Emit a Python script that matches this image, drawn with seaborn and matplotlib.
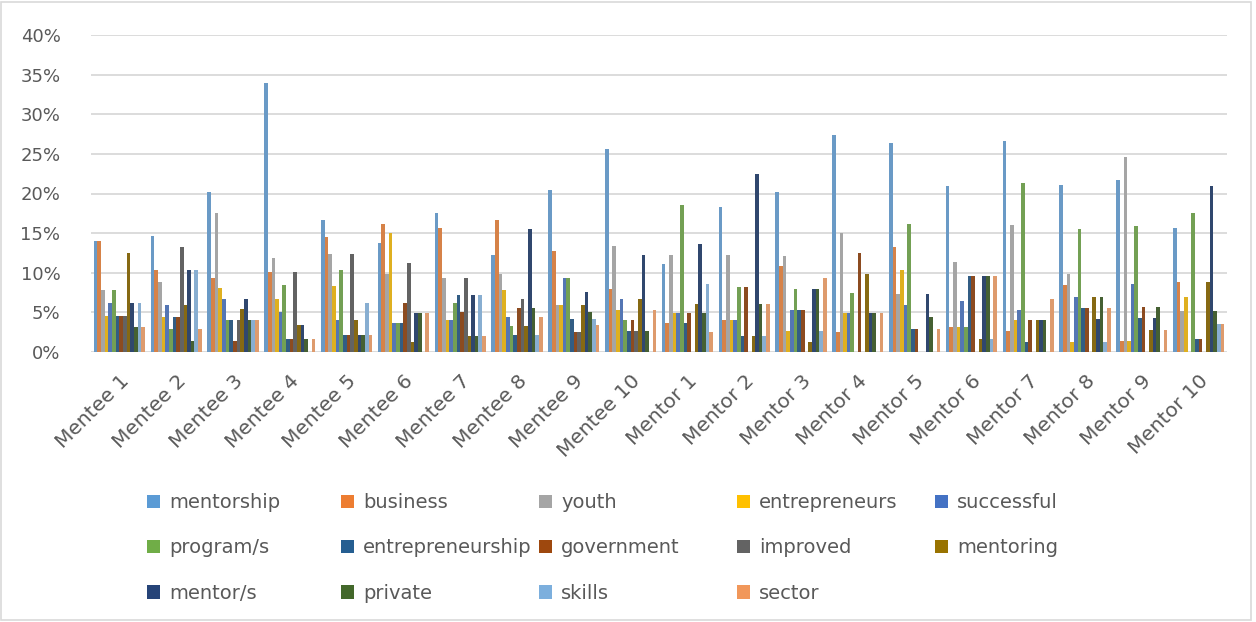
import matplotlib
matplotlib.use("Agg")
import matplotlib.pyplot as plt
import seaborn as sns
import pandas as pd
from matplotlib.ticker import PercentFormatter
from matplotlib.patches import Rectangle, Patch

categories = ["Mentee 1", "Mentee 2", "Mentee 3", "Mentee 4", "Mentee 5", "Mentee 6",
              "Mentee 7", "Mentee 8", "Mentee 9", "Mentee 10", "Mentor 1", "Mentor 2",
              "Mentor 3", "Mentor 4", "Mentor 5", "Mentor 6", "Mentor 7", "Mentor 8",
              "Mentor 9", "Mentor 10"]

terms = ["mentorship", "business", "youth", "entrepreneurs", "successful", "program/s",
         "entrepreneurship", "government", "improved", "mentoring", "mentor/s",
         "private", "skills", "sector"]

mentorship = [14.0, 14.7, 20.2, 33.9, 16.6, 13.7, 17.6, 12.2, 20.5, 25.6,
              11.1, 18.3, 20.2, 27.4, 26.4, 21.0, 26.6, 21.1, 21.7, 15.7]
business = [14.0, 10.3, 9.4, 10.1, 14.5, 16.2, 15.6, 16.6, 12.8, 8.0,
            3.7, 4.1, 10.8, 2.5, 13.2, 3.2, 2.6, 8.4, 1.4, 8.8]
youth = [7.8, 8.8, 17.6, 11.8, 12.4, 9.9, 9.3, 9.9, 5.9, 13.4,
         12.3, 12.2, 12.1, 15.0, 7.3, 11.3, 16.0, 9.8, 24.6, 5.2]
entrepreneurs = [4.6, 4.4, 8.1, 6.7, 8.3, 15.0, 4.1, 7.8, 5.9, 5.3,
                 4.9, 4.1, 2.6, 4.9, 10.3, 3.2, 4.0, 1.3, 1.4, 7.0]
successful = [6.2, 5.9, 6.7, 5.0, 4.1, 3.7, 4.1, 4.4, 9.3, 6.7,
              4.9, 4.1, 5.3, 4.9, 5.9, 6.4, 5.3, 7.0, 8.6, 0.0]
programs = [7.8, 2.9, 4.0, 8.4, 10.4, 3.7, 6.2, 3.3, 9.3, 4.0,
            18.5, 8.2, 8.0, 7.4, 16.2, 3.2, 21.3, 15.5, 15.9, 17.5]
entrepreneurship = [4.6, 4.4, 4.0, 1.7, 2.1, 3.7, 7.2, 2.2, 4.2, 2.6,
                    3.7, 2.0, 5.3, 0.0, 2.9, 9.6, 1.3, 5.6, 4.3, 1.7]
government = [4.6, 4.4, 1.4, 1.7, 2.1, 6.2, 5.1, 5.5, 2.5, 4.0,
              4.9, 8.2, 5.3, 12.5, 2.9, 9.6, 4.0, 5.6, 5.7, 1.7]
improved = [4.6, 13.2, 4.0, 10.1, 12.4, 11.2, 9.3, 6.7, 2.5, 2.6,
            0.0, 0.0, 0.0, 0.0, 0.0, 0.0, 0.0, 0.0, 0.0, 0.0]
mentoring = [12.5, 5.9, 5.4, 3.4, 4.1, 1.2, 2.0, 3.3, 5.9, 6.7,
             6.1, 2.0, 1.3, 9.9, 0.0, 1.6, 4.0, 7.0, 2.8, 8.8]
mentors = [6.2, 10.3, 6.7, 3.4, 2.1, 4.9, 7.2, 15.5, 7.6, 12.2,
           13.6, 22.4, 8.0, 4.9, 7.3, 9.6, 4.0, 4.2, 4.3, 21.0]
private = [3.1, 1.4, 4.0, 1.7, 2.1, 4.9, 2.0, 5.5, 5.1, 2.6,
           4.9, 6.1, 8.0, 4.9, 4.4, 9.6, 4.0, 7.0, 5.7, 5.2]
skills = [6.2, 10.3, 4.0, 0.0, 6.2, 0.0, 7.2, 2.2, 4.2, 0.0,
          8.6, 2.0, 2.6, 0.0, 0.0, 1.6, 0.0, 1.3, 0.0, 3.5]
sector = [3.1, 2.9, 4.0, 1.7, 2.1, 4.9, 2.0, 4.4, 3.4, 5.3,
          2.5, 6.1, 9.4, 4.9, 2.9, 9.6, 6.7, 5.6, 2.8, 3.5]

series = [mentorship, business, youth, entrepreneurs, successful, programs,
          entrepreneurship, government, improved, mentoring, mentors, private,
          skills, sector]

colors = ["#5B9BD5", "#ED7D31", "#A5A5A5", "#FFC000", "#4472C4", "#70AD47",
          "#255E91", "#9E480E", "#636363", "#997300", "#264478", "#43682B",
          "#7CAFDD", "#F1975A"]

rows = []
for term, vals in zip(terms, series):
    for cat, v in zip(categories, vals):
        rows.append({"category": cat, "term": term, "value": v})
df = pd.DataFrame(rows)

sns.set_theme(style="white")
plt.rcParams["font.family"] = ["DejaVu Sans"]

W, H = 1256, 622
fig = plt.figure(figsize=(W / 100, H / 100), dpi=100)
ax = fig.add_axes([91 / W, 1 - 352 / H, (1227 - 91) / W, (352 - 35) / H])

sns.barplot(data=df, x="category", y="value", hue="term", order=categories,
            hue_order=terms, palette=colors, width=0.9, linewidth=0,
            legend=False, ax=ax, errorbar=None)

ax.set_ylim(0, 40)
ax.set_yticks(range(0, 41, 5))
ax.yaxis.set_major_formatter(PercentFormatter(xmax=100, decimals=0))
ax.grid(axis="y", color="#D9D9D9", linewidth=1.3)
ax.set_axisbelow(True)
for s in ax.spines.values():
    s.set_visible(False)
ax.set_xlabel("")
ax.set_ylabel("")
ax.tick_params(axis="y", length=0, pad=22, labelsize=13, labelcolor="#595959")
ax.tick_params(axis="x", length=0, pad=14, labelsize=14.5, labelcolor="#595959")
plt.setp(ax.get_xticklabels(), rotation=45, ha="right", rotation_mode="anchor")

# legend: five columns placed like the reference
col_x = [147, 341, 539, 737, 935]
col_members = [[0, 5, 10], [1, 6, 11], [2, 7, 12], [3, 8, 13], [4, 9]]
for cx, members in zip(col_x, col_members):
    handles = [Patch(facecolor=colors[i], edgecolor="none", label=terms[i]) for i in members]
    fig.legend(handles=handles, loc="upper left", bbox_to_anchor=(cx / W, 1 - 493 / H),
               frameon=False, fontsize=14, labelcolor="#595959", borderpad=0,
               borderaxespad=0, handlelength=0.68, handleheight=0.68,
               handletextpad=0.45, labelspacing=1.36)

fig.patches.append(Rectangle((1 / W, 2 / H), 1 - 6 / W, 1 - 4 / H, transform=fig.transFigure,
                             fill=False, edgecolor="#D9D9D9", linewidth=1.2))

fig.savefig("out.png", dpi=100, facecolor="white")
